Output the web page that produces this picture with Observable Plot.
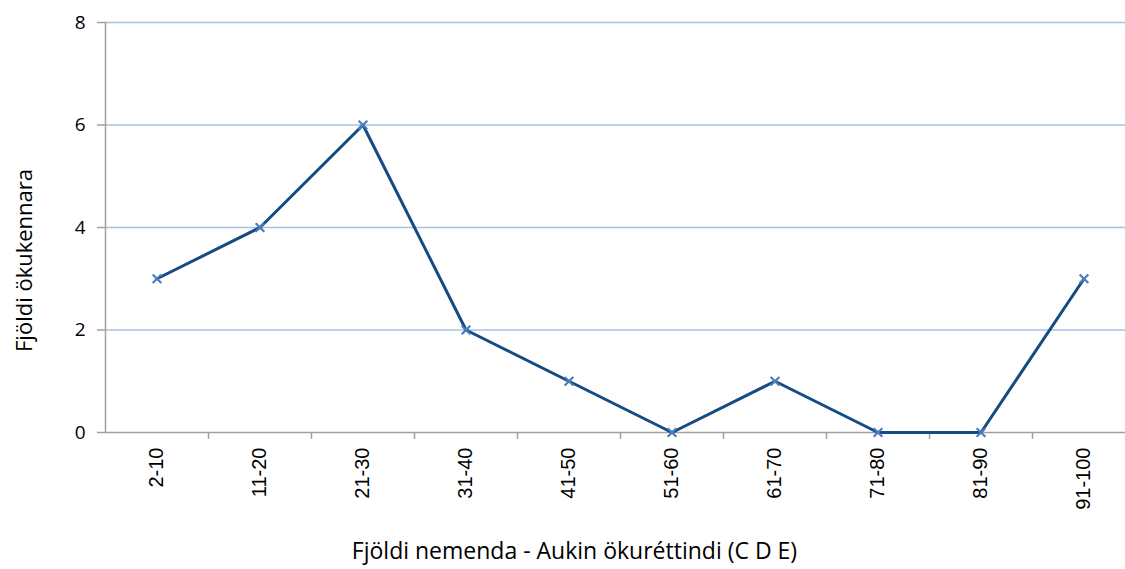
<!DOCTYPE html>
<html>
<head>
<meta charset="utf-8">
<script src="https://cdn.jsdelivr.net/npm/d3@7"></script>
<script src="https://cdn.jsdelivr.net/npm/@observablehq/plot@0.6"></script>
<style>
  html, body { margin: 0; padding: 0; background: #fff; overflow: hidden; }
  #chart svg { display: block; max-width: none !important; width: 1135px !important; height: 569px !important; }
</style>
</head>
<body>
<div id="chart"></div>
<script>
const categories = ["2-10", "11-20", "21-30", "31-40", "41-50", "51-60", "61-70", "71-80", "81-90", "91-100"];
const values = [3, 4, 6, 2, 1, 0, 1, 0, 0, 3];
const yTicks = [0, 2, 4, 6, 8];
const gridLines = [2, 4, 6, 8];
const xTitle = "Fjöldi nemenda - Aukin ökuréttindi (C D E)";
const yTitle = "Fjöldi ökukennara";

const data = categories.map((c, i) => ({cat: c, n: values[i]}));

const width = 1135, height = 569;
const marginLeft = 105, marginRight = 0, marginTop = 22, marginBottom = 137;
const bw = (width - marginLeft - marginRight) / categories.length;
const titleFont = "'Open Sans', Lato, sans-serif";

const chart = Plot.plot({
  width, height, marginLeft, marginRight, marginTop, marginBottom,
  style: {background: "#fff", color: "#000"},
  x: {type: "band", domain: categories, padding: 0},
  y: {domain: [0, 8]},
  marks: [
    Plot.ruleY(gridLines, {stroke: "#a9c0e8", strokeWidth: 1.5}),
    Plot.ruleY([0], {stroke: "#a0a0a0", strokeWidth: 1.5}),
    Plot.ruleX([categories[0]], {dx: -bw / 2, stroke: "#a0a0a0", strokeWidth: 1.5}),
    Plot.ruleX(categories, {dx: bw / 2, y1: 0, y2: 0, insetBottom: -7, stroke: "#a0a0a0", strokeWidth: 1.5}),
    Plot.axisY(yTicks, {tickSize: 8, tickPadding: 12, tickFormat: d => String(d), fontSize: 19, fontFamily: titleFont, stroke: "#a0a0a0", strokeWidth: 1.5, label: null}),
    Plot.axisX({tickSize: 0, tickRotate: -90, tickPadding: 15, fontSize: 20, fontFamily: "'Liberation Sans', Arial, sans-serif", label: null}),
    Plot.line(data, {x: "cat", y: "n", stroke: "#134b82", strokeWidth: 3}),
    Plot.dot(data, {x: "cat", y: "n", symbol: "times", r: 4, stroke: "#4a7ebb", strokeWidth: 2.2}),
    Plot.text([xTitle], {frameAnchor: "bottom", dx: -46, dy: 126, fontSize: 23, fontFamily: titleFont, fill: "#000"}),
    Plot.text([yTitle], {frameAnchor: "left", textAnchor: "middle", dx: -81, dy: 33, rotate: -90, fontSize: 22, fontFamily: titleFont, fill: "#000"})
  ]
});
document.getElementById("chart").appendChild(chart);
</script>
</body>
</html>
